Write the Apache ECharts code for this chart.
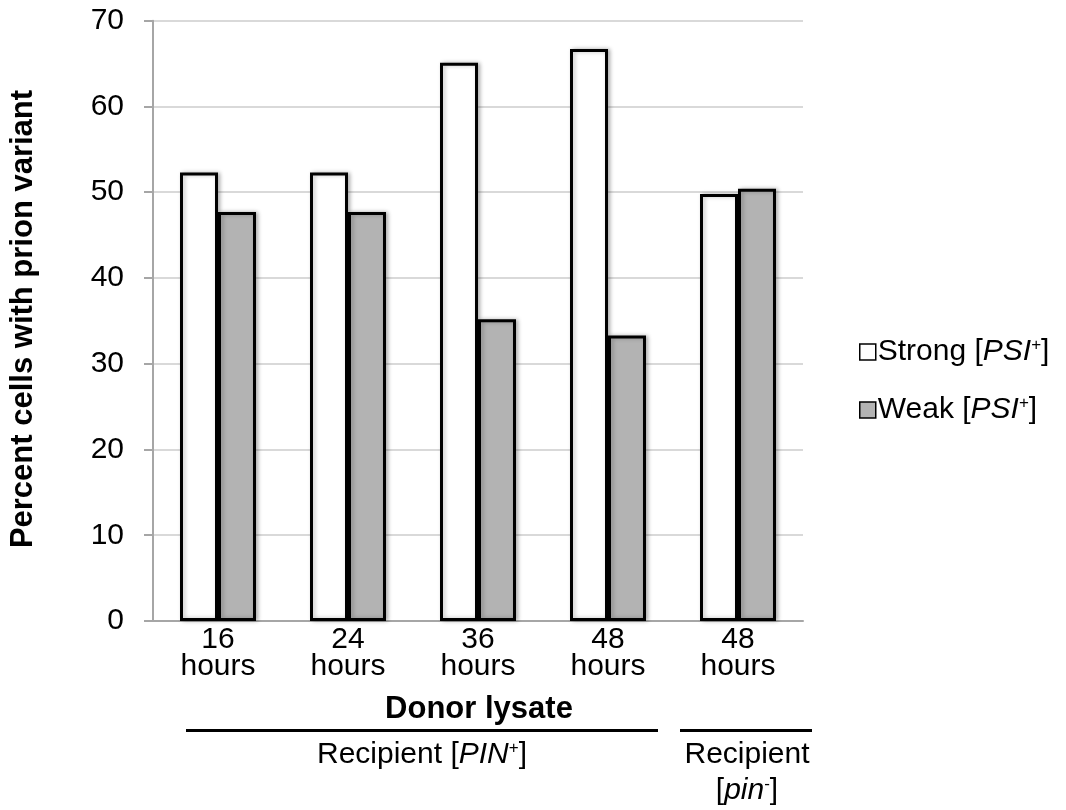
<!DOCTYPE html>
<html>
<head>
<meta charset="utf-8">
<script src="https://cdn.jsdelivr.net/npm/echarts@6/dist/echarts.min.js"></script>
<style>
  html, body { margin: 0; padding: 0; background: #fff; }
  #chart { width: 1066px; height: 810px; }
</style>
</head>
<body>
<div id="chart"></div>
<script>
const categories = ["16\nhours", "24\nhours", "36\nhours", "48\nhours", "48\nhours"]
const strongValues = [52.3, 52.3, 65.1, 66.7, 49.8]
const weakValues = [47.7, 47.7, 35.2, 33.3, 50.4]
const yTicks = { min: 0, max: 70, interval: 10 }

const font = "Liberation Sans, Arial, sans-serif"
const fs = 30
const chart = echarts.init(document.getElementById("chart"))

const rich = {
  t: { fontSize: fs, fontFamily: font, color: "#000", lineHeight: 30 },
  i: { fontSize: fs, fontFamily: font, fontStyle: "italic", color: "#000", lineHeight: 30 },
  s: { fontSize: 17, fontFamily: font, color: "#000", verticalAlign: "top", lineHeight: 30, padding: [0, 0, 10, 0] }
}

const option = {
  backgroundColor: "#fff",
  animation: false,
  grid: { left: 153, right: 263, top: 20.7, bottom: 189 },
  legend: {
    orient: "vertical",
    left: 854,
    top: 332,
    itemWidth: 16,
    itemHeight: 16,
    itemGap: 28,
    icon: "rect",
    itemStyle: { borderWidth: 1.5, borderColor: "#000" },
    formatter: (name) => "{t|" + name + " [}{i|PSI}{s|+}{t|]}",
    textStyle: { rich: rich, padding: [0, 0, 0, -3] },
    data: ["Strong", "Weak"]
  },
  xAxis: {
    type: "category",
    data: categories,
    axisTick: { show: false },
    axisLine: { lineStyle: { color: "#a6a6a6", width: 2 } },
    axisLabel: { fontSize: fs, fontFamily: font, color: "#000", lineHeight: 27, margin: 5 }
  },
  yAxis: {
    type: "value",
    min: yTicks.min,
    max: yTicks.max,
    interval: yTicks.interval,
    axisLine: { show: true, lineStyle: { color: "#a6a6a6", width: 2 } },
    axisTick: { show: true, length: 9, lineStyle: { color: "#a6a6a6", width: 2 } },
    splitLine: { lineStyle: { color: "#d9d9d9", width: 2 } },
    axisLabel: { fontSize: fs, fontFamily: font, color: "#000", margin: 29 }
  },
  series: [
    {
      name: "Strong",
      type: "bar",
      data: strongValues,
      barWidth: 38,
      barGap: "0%",
      itemStyle: {
        color: "#fff", borderColor: "#000", borderWidth: 3,
        shadowColor: "rgba(0,0,0,0.25)", shadowBlur: 4, shadowOffsetX: 2
      }
    },
    {
      name: "Weak",
      type: "bar",
      data: weakValues,
      barWidth: 38,
      itemStyle: {
        color: "#b3b3b3", borderColor: "#000", borderWidth: 3,
        shadowColor: "rgba(0,0,0,0.25)", shadowBlur: 4, shadowOffsetX: 2
      }
    }
  ],
  graphic: [
    {
      type: "text",
      x: 23, y: 319, rotation: Math.PI / 2,
      style: {
        text: "Percent cells with prion variant",
        font: "bold 31px " + font,
        fill: "#000",
        align: "center",
        verticalAlign: "middle"
      }
    },
    {
      type: "text",
      x: 479, y: 709,
      style: { text: "Donor lysate", font: "bold 31px " + font, fill: "#000", align: "center", verticalAlign: "middle" }
    },
    { type: "line", shape: { x1: 186, y1: 730.5, x2: 658, y2: 730.5 }, style: { stroke: "#000", lineWidth: 3 } },
    { type: "line", shape: { x1: 680, y1: 730.5, x2: 812, y2: 730.5 }, style: { stroke: "#000", lineWidth: 3 } },
    {
      type: "text",
      x: 422, y: 755,
      style: {
        text: "{t|Recipient [}{i|PIN}{s|+}{t|]}",
        rich: rich,
        align: "center",
        verticalAlign: "middle"
      }
    },
    {
      type: "text",
      x: 747, y: 755,
      style: { text: "Recipient", font: fs + "px " + font, fill: "#000", align: "center", verticalAlign: "middle" }
    },
    {
      type: "text",
      x: 747, y: 791,
      style: {
        text: "{t|[}{i|pin}{s|-}{t|]}",
        rich: rich,
        align: "center",
        verticalAlign: "middle"
      }
    }
  ]
}

chart.setOption(option)
window.addEventListener("resize", () => chart.resize())
</script>
</body>
</html>
